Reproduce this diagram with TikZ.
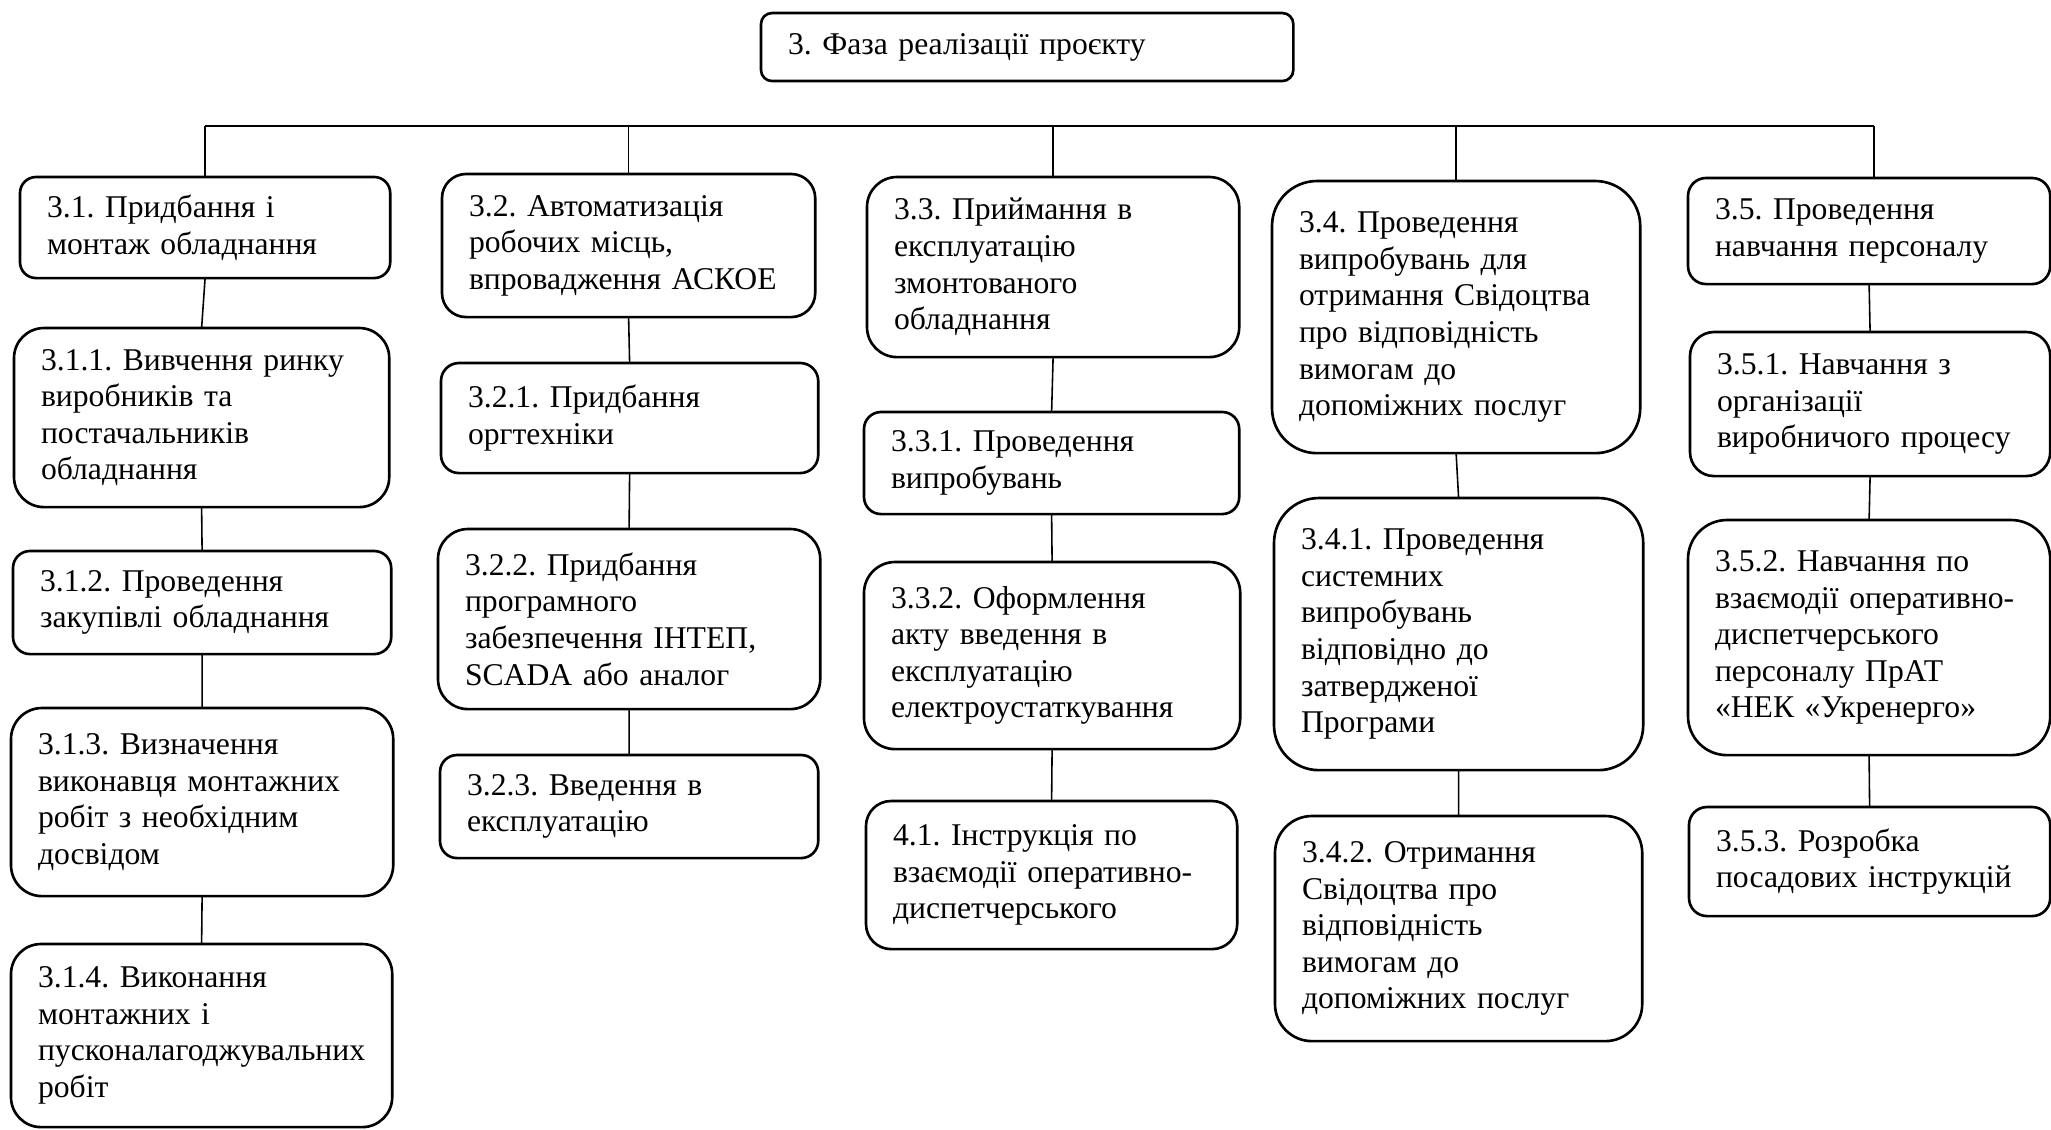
\documentclass[tikz,border=0pt]{standalone}
\usepackage{fontspec}
\setmainfont{Liberation Serif}
\usetikzlibrary{calc}
\frenchspacing

\begin{document}
\begin{tikzpicture}[x=0.01cm,y=-0.01cm,
  box/.style={draw,line width=0.75pt,rounded corners=#1,anchor=north west,
    align=left,inner xsep=0.27cm,inner ysep=0pt,outer sep=0pt,
    font=\fontsize{9.0}{10.4}\selectfont},
  box/.default=0.17cm,
  link/.style={line width=0.45pt}]

\useasboundingbox (0,0) rectangle (2051,1129);

\node[box=0.11cm,text width=4.78cm,minimum height=0.68cm](top) at (761,13) {3. Фаза реалізації проєкту};

% 3.1
\node[box=0.16cm,text width=3.16cm,minimum height=1.01cm](n31) at (20,177) {3.1. Придбання і\\монтаж обладнання};
\node[box=0.30cm,text width=3.21cm,minimum height=1.79cm](n311) at (14,328) {3.1.1. Вивчення ринку\\виробників та\\постачальників\\обладнання};
\node[box=0.17cm,text width=3.24cm,minimum height=1.03cm](n312) at (13,551) {3.1.2. Проведення\\закупівлі обладнання};
\node[box=0.31cm,text width=3.28cm,minimum height=1.88cm](n313) at (11,708) {3.1.3. Визначення\\виконавця монтажних\\робіт з необхідним\\досвідом};
\node[box=0.30cm,text width=3.27cm,minimum height=1.83cm](n314) at (11,944) {3.1.4. Виконання\\монтажних і\\пусконалагоджувальних\\робіт};

% 3.2
\node[box=0.24cm,text width=3.19cm,minimum height=1.43cm](n32) at (442,174) {3.2. Автоматизація\\робочих місць,\\впровадження АСКОЕ};
\node[box=0.18cm,text width=3.23cm,minimum height=1.10cm](n321) at (441,363) {3.2.1. Придбання\\оргтехніки};
\node[box=0.30cm,text width=3.28cm,minimum height=1.80cm](n322) at (438,529) {3.2.2. Придбання\\програмного\\забезпечення ІНТЕП,\\SCADA або аналог};
\node[box=0.17cm,text width=3.24cm,minimum height=1.03cm](n323) at (440,755) {3.2.3. Введення в\\експлуатацію};

% 3.3
\node[box=0.30cm,text width=3.18cm,minimum height=1.80cm](n33) at (867,177) {3.3. Приймання в\\експлуатацію\\змонтованого\\обладнання};
\node[box=0.17cm,text width=3.21cm,minimum height=1.02cm](n331) at (864,412) {3.3.1. Проведення\\випробувань};
\node[box=0.31cm,text width=3.22cm,minimum height=1.87cm](n332) at (864,562) {3.3.2. Оформлення\\акту введення в\\експлуатацію\\електроустаткування};
\node[box=0.25cm,text width=3.17cm,minimum height=1.48cm](n41) at (866,801) {4.1. Інструкція по\\взаємодії оперативно-\\диспетчерського};

% 3.4
\node[box=0.45cm,text width=3.14cm,minimum height=2.72cm](n34) at (1272,181) {3.4. Проведення\\випробувань для\\отримання Свідоцтва\\про відповідність\\вимогам до\\допоміжних послуг};
\node[box=0.45cm,text width=3.15cm,minimum height=2.72cm](n341) at (1274,498) {3.4.1. Проведення\\системних\\випробувань\\відповідно до\\затвердженої\\Програми};
\node[box=0.37cm,text width=3.13cm,minimum height=2.25cm](n342) at (1275,816) {3.4.2. Отримання\\Свідоцтва про\\відповідність\\вимогам до\\допоміжних послуг};

% 3.5
\node[box=0.18cm,text width=3.08cm,minimum height=1.06cm](n35) at (1688,178) {3.5. Проведення\\навчання персоналу};
\node[box=0.24cm,text width=3.06cm,minimum height=1.44cm](n351) at (1690,332) {3.5.1. Навчання з\\організації\\виробничого процесу};
\node[box=0.39cm,text width=3.08cm,minimum height=2.35cm](n352) at (1688,520) {3.5.2. Навчання по\\взаємодії оперативно-\\диспетчерського\\персоналу ПрАТ\\«НЕК «Укренерго»};
\node[box=0.18cm,text width=3.07cm,minimum height=1.09cm](n353) at (1689,807) {3.5.3. Розробка\\посадових інструкцій};

% bus
\coordinate (bus) at (0,126);
\draw[link] (n31.north |- bus) -- ($(n35.north |- bus)+(5,0)$);
\foreach \n in {n31,n32,n33,n34}
  \draw[link] (\n.north |- bus) -- (\n.north);
\draw[link] ($(n35.north |- bus)+(5,0)$) -- ($(n35.north)+(5,0)$);

\path[link]
(n31.south) edge (n311.north)
(n311.south) edge (n312.north)
(n312.south) edge (n313.north)
(n313.south) edge (n314.north)
(n32.south) edge (n321.north)
(n321.south) edge (n322.north)
(n322.south) edge (n323.north)
(n33.south) edge (n331.north)
(n331.south) edge (n332.north)
(n332.south) edge (n41.north)
(n34.south) edge (n341.north)
(n341.south) edge (n342.north)
(n35.south) edge (n351.north)
(n351.south) edge (n352.north)
(n352.south) edge (n353.north);
\end{tikzpicture}
\end{document}
